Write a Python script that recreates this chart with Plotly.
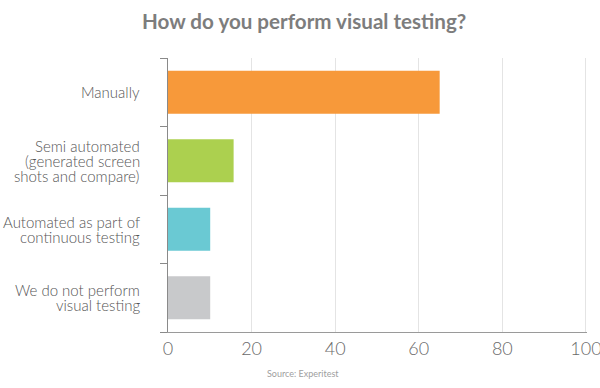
import plotly.graph_objects as go

categories = [
    "Manually",
    "Semi automated<br>(generated screen<br>shots and compare)",
    "Automated as part of<br>continuous testing",
    "We do not perform<br>visual testing",
]
values = [65, 15.7, 10.1, 10.1]
colors = ["#f7993a", "#acd04f", "#6ac9d3", "#c8c9cb"]
x_ticks = [0, 20, 40, 60, 80, 100]

fig = go.Figure(
    go.Bar(
        x=values,
        y=categories,
        orientation="h",
        marker=dict(color=colors, line=dict(width=0)),
        width=0.63,
        hoverinfo="x",
    )
)

fig.update_layout(
    width=600,
    height=388,
    paper_bgcolor="white",
    plot_bgcolor="white",
    margin=dict(l=168, r=13, t=58, b=56, autoexpand=False),
    showlegend=False,
    title=dict(
        text="<b>How do you perform visual testing?</b>",
        x=0.507,
        xanchor="center",
        y=0.943,
        yanchor="middle",
        font=dict(family="Lato", size=20.6, color="#7d7d7d"),
    ),
    font=dict(family="Lato"),
)

fig.update_xaxes(
    range=[0, 100.25],
    tickvals=x_ticks,
    ticktext=[str(v) for v in x_ticks],
    showgrid=True,
    gridcolor="#e4e4e4",
    gridwidth=1,
    zeroline=False,
    showline=True,
    linecolor="#9a9a9a",
    linewidth=1,
    ticks="",
    ticklabeloverflow="allow",
    automargin=False,
    tickfont=dict(family="Lato", size=18, color="#6a6a6a", weight=300),
    fixedrange=True,
)

fig.update_yaxes(
    categoryorder="array",
    categoryarray=categories[::-1],
    autorange=False,
    range=[-0.5, 3.5],
    showgrid=False,
    zeroline=False,
    showline=True,
    linecolor="#8a8a8a",
    linewidth=1,
    ticks="outside",
    tickson="boundaries",
    ticklen=7,
    tickcolor="#8a8a8a",
    showticklabels=False,
    automargin=False,
    fixedrange=True,
)

# category labels with tight line spacing (one annotation per line)
LINE_H = 15
for cat in categories:
    lines = cat.split("<br>")
    n = len(lines)
    for i, line in enumerate(lines):
        fig.add_annotation(
            text=line,
            xref="paper", x=0, xanchor="right", xshift=-27,
            yref="y", y=cat, yanchor="middle",
            yshift=((n - 1) / 2 - i) * LINE_H,
            borderpad=0,
            showarrow=False,
            font=dict(family="Lato", size=15, color="#555555", weight=300),
        )

fig.add_annotation(
    text="Source: Experitest",
    xref="paper", x=(303 - 168) / (587 - 168), xanchor="center",
    yref="paper", y=0, yanchor="middle", yshift=-(373 - 332),
    showarrow=False,
    font=dict(family="Lato", size=9, color="#a0a0a0"),
)

fig.write_html(
    "out.html",
    config={"displayModeBar": False},
    post_script="document.body.style.margin='0';document.body.style.overflow='hidden';",
)
